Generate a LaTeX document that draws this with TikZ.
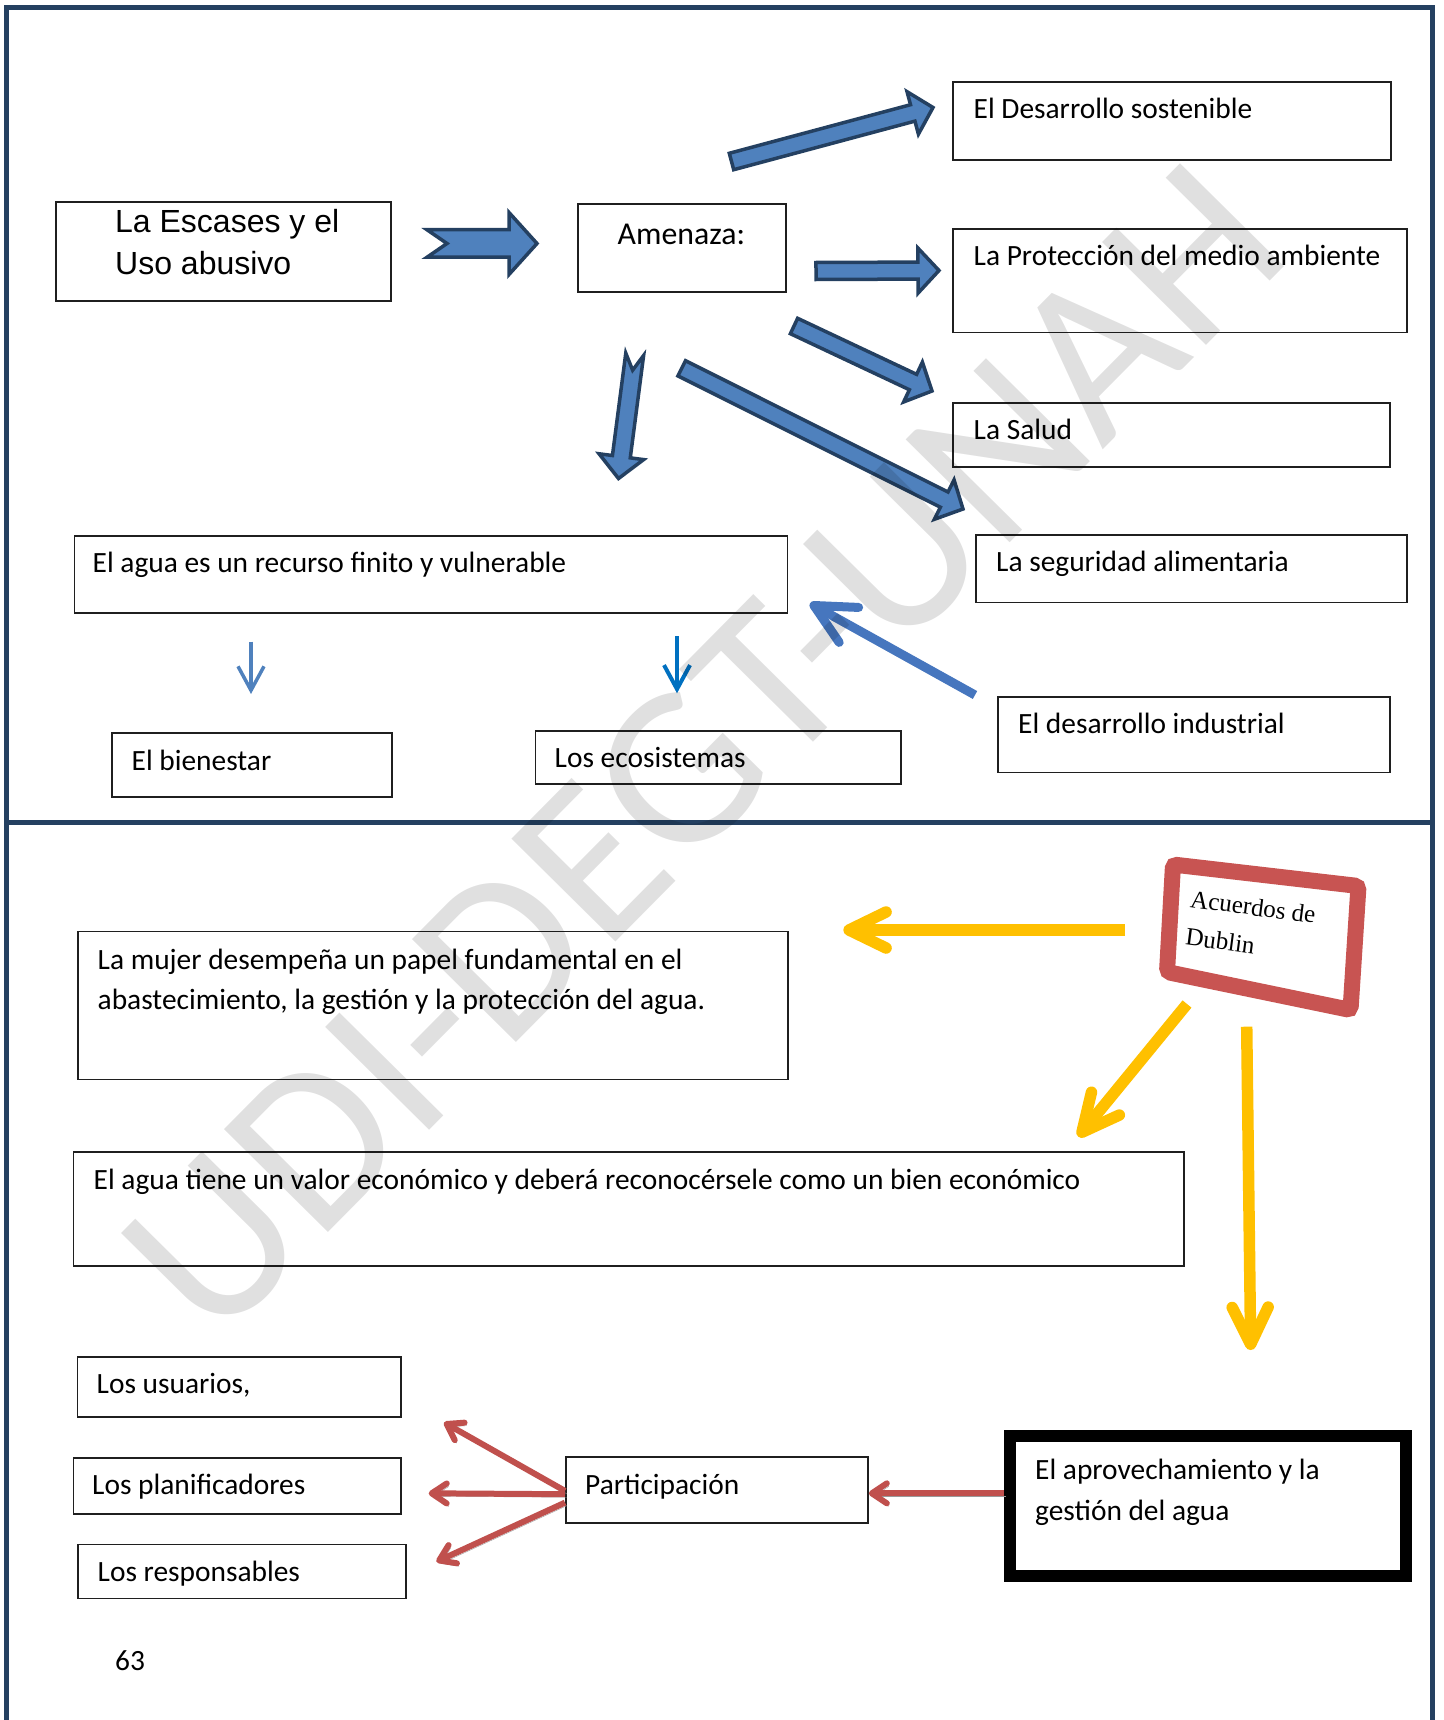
\documentclass[tikz,border=0pt]{standalone}
\usepackage{fontspec}
\setmainfont{Carlito}
\newfontfamily\arialfont{Liberation Sans}
\newfontfamily\dubfont{Liberation Serif}
\usetikzlibrary{calc,arrows.meta}

\definecolor{frameblue}{RGB}{36,64,97}
\definecolor{arrowfill}{RGB}{79,129,189}
\definecolor{arrowline}{RGB}{36,64,97}
\definecolor{linkblue}{RGB}{70,118,190}
\definecolor{brightblue}{RGB}{0,112,192}
\definecolor{softblue}{RGB}{79,129,189}
\definecolor{amber}{RGB}{255,192,0}
\definecolor{brick}{RGB}{192,80,77}
\definecolor{dubred}{RGB}{200,84,82}

\newcommand{\bodyfont}{\fontsize{29.4}{36}\selectfont}
\newcommand{\twolines}[3]{\vtop{\baselineskip=#1pt\hbox{#2}\hbox{#3}}}

% framed box given by its top-left and bottom-right corners
\newcommand{\boxat}[5]{%
  \node[boxst, minimum width=#4-#2, minimum height=#5-#3] (#1) at (#2,#3) {};}

% block arrow: name, tail, tip, half shaft, half head, head length, notch depth
\newcommand{\blockarrow}[7]{%
  \coordinate (#1-tail) at (#2);
  \coordinate (#1-tip) at (#3);
  \coordinate (#1-head) at ($(#1-tip)!#6pt!(#1-tail)$);
  \coordinate (#1-notch) at ($(#1-tail)!#7pt!(#1-tip)$);
  \draw[barrow] (#1-notch)
    -- ($(#1-tail)!#4pt!90:(#1-tip)$) -- ($(#1-head)!#4pt!90:(#1-tip)$)
    -- ($(#1-head)!#5pt!90:(#1-tip)$) -- (#1-tip)
    -- ($(#1-head)!#5pt!-90:(#1-tip)$) -- ($(#1-head)!#4pt!-90:(#1-tip)$)
    -- ($(#1-tail)!#4pt!-90:(#1-tip)$) -- cycle;}

\begin{document}
\begin{tikzpicture}[x=1pt,y=-1pt,
  boxst/.style={draw=black!88, line width=1.8pt, inner sep=0pt, anchor=north west},
  txt/.style={anchor=base west, inner sep=0pt, font=\bodyfont},
  barrow/.style={fill=arrowfill, draw=arrowline, line width=3.5pt, line join=miter},
  linkarrow/.style={draw=linkblue, line width=9pt,
    -{Straight Barb[length=40pt,width=40pt,round]}},
  smallarrow/.style={line width=3.5pt, -{Straight Barb[length=24pt,width=26pt]}},
  amberarrow/.style={draw=amber, line width=11.5pt,
    -{Straight Barb[length=37pt,width=36pt,round]}},
  brickarrow/.style={draw=brick, line width=6pt,
    -{Straight Barb[length=15pt,width=20pt,round]},
    preaction={draw=black!40, transform canvas={shift={(2,3)}}}},
  dubframe/.style={draw=dubred, line width=16pt, rounded corners=4pt},
  ]
\useasboundingbox (0,0) rectangle (1443,1720);

% page frame and divider
\draw[frameblue, line width=5pt] (6.5,1720) -- (6.5,7.5) -- (1432,7.5) -- (1432,1720);
\draw[frameblue, line width=5pt] (6.5,822) -- (1432,822);

% ---------- upper panel ----------
\boxat{escases}{55}{201}{390}{300}
\node[txt, font=\arialfont\fontsize{32}{36}\selectfont] (escases-t) at (115,233)
  {\twolines{42}{La Escases y el}{Uso abusivo}};

\boxat{amenaza}{577}{203}{785}{291}
\node[txt, font=\fontsize{31.8}{36}\selectfont] (amenaza-t) at (617.5,245) {Amenaza:};

\boxat{desarrollo}{952}{81}{1390}{159}
\node[txt] (desarrollo-t) at (973.5,118.5) {El Desarrollo sostenible};

\boxat{proteccion}{952}{228}{1406}{331.5}
\node[txt] (proteccion-t) at (973.5,265.5) {La Protección del medio ambiente};

\boxat{salud}{952}{402}{1389}{466}
\node[txt] (salud-t) at (973.5,439.5) {La Salud};

\boxat{seguridad}{975}{534}{1406}{601.5}
\node[txt] (seguridad-t) at (996,571.5) {La seguridad alimentaria};

\boxat{aguafin}{73.5}{535}{786.5}{612}
\node[txt] (aguafin-t) at (92.5,572.5) {El agua es un recurso finito y vulnerable};

\boxat{bienestar}{111}{732}{391}{796}
\node[txt] (bienestar-t) at (131.5,770) {El bienestar};

\boxat{ecosist}{534.5}{730}{900}{783}
\node[txt] (ecosist-t) at (554.5,767.5) {Los ecosistemas};

\boxat{industrial}{997}{696}{1389}{771.5}
\node[txt] (industrial-t) at (1018,733.5) {El desarrollo industrial};

% block arrows out of the threat box
\blockarrow{aa}{427,243.5}{537,243.5}{13.75}{31}{28}{20}
\blockarrow{ab}{816,271}{939,270.5}{8.5}{22.5}{21}{0}
\blockarrow{ac}{731.5,161.5}{933,107.5}{8.5}{22}{21}{0}
\blockarrow{ad}{794,326}{932,391}{8.5}{22}{21}{0}
\blockarrow{ae}{681.7,368.3}{963,509}{8.5}{22}{21}{0}
\blockarrow{af}{634.7,354.3}{618.5,478.5}{9}{22.5}{22}{16}

% thin connectors
\coordinate (ind-start) at (975,695);
\coordinate (agua-end) at (810,603.3);
\draw[linkarrow] (ind-start) -- (agua-end);
\coordinate (bien-start) at (251,641.7);
\coordinate (bien-end) at (251,694);
\draw[smallarrow, draw=softblue] (bien-start) -- (bien-end);
\coordinate (eco-start) at (677,636);
\coordinate (eco-end) at (677,693.3);
\draw[smallarrow, draw=brightblue, line width=4pt] (eco-start) -- (eco-end);

% ---------- lower panel ----------
\boxat{mujer}{77}{930.5}{787}{1078.5}
\node[txt] (mujer-t) at (97.5,969)
  {\twolines{40.5}{La mujer desempeña un papel fundamental en el}{abastecimiento, la gestión y la protección del agua.}};

\boxat{economico}{72.5}{1151}{1183}{1265}
\node[txt] (economico-t) at (93.5,1189.5)
  {El agua tiene un valor económico y deberá reconocérsele como un bien económico};

\boxat{usuarios}{76.5}{1356}{400}{1416}
\node[txt] (usuarios-t) at (96.5,1393.5) {Los usuarios,};

\boxat{planif}{72.5}{1457}{400}{1513}
\node[txt] (planif-t) at (92,1494) {Los planificadores};

\boxat{respons}{77}{1543.5}{405}{1597.5}
\node[txt] (respons-t) at (97.5,1581) {Los responsables};

\boxat{particip}{565}{1456}{867}{1522}
\node[txt] (particip-t) at (585,1494) {Participación};

\node[boxst, line width=12pt, draw=black, minimum width=396, minimum height=140]
  (aprovech) at (1004,1430) {};
\node[txt] (aprovech-t) at (1035,1479.5)
  {\twolines{41}{El aprovechamiento y la}{gestión del agua}};

% tilted Dublin label, its frame slightly skewed
\draw[dubframe] (1173,864.5) -- (1358.5,886) -- (1350.5,1010) -- (1167,972) -- cycle;
\begin{scope}[shift={(1189.5,907)}, rotate=-7.5]
  \node[anchor=base west, inner sep=0pt, transform shape, text=black,
    font=\dubfont\fontsize{25}{30}\selectfont] (dublin-t) at (0,0)
    {\twolines{38}{Acuerdos de}{Dublin}};
\end{scope}

% yellow arrows from the Dublin label
\coordinate (dub-left) at (1125,930);
\coordinate (mujer-end) at (843.3,930);
\draw[amberarrow] (dub-left) -- (mujer-end);
\coordinate (dub-diag) at (1187,1004);
\coordinate (econ-end) at (1078.3,1136.7);
\draw[amberarrow] (dub-diag) -- (econ-end);
\coordinate (dub-down) at (1246.7,1026.7);
\coordinate (aprov-end) at (1250.7,1350);
\draw[amberarrow] (dub-down) -- (aprov-end);

% red arrows of participation
\coordinate (usuarios-end) at (444,1422.5);
\coordinate (planif-end) at (428.7,1493.3);
\coordinate (respons-end) at (436.4,1561.7);
\coordinate (particip-end) at (868.8,1493.3);
\draw[brickarrow] ($(particip.west)+(0,1)$) -- (usuarios-end);
\draw[brickarrow] ($(particip.west)+(0,4.3)$) -- (planif-end);
\draw[brickarrow] ($(particip.west)+(0,12.7)$) -- (respons-end);
\draw[brickarrow] ($(aprovech.west)+(0,-12.7)$) -- (particip-end);

\node[txt] (pagenum) at (115,1670) {63};

% watermark
\node[rotate=45.3, inner sep=0pt, text=black, opacity=0.12,
  font=\fontsize{228}{228}\selectfont] (watermark) at (703,750) {UDI-DEGT-UNAH};
\end{tikzpicture}
\end{document}
